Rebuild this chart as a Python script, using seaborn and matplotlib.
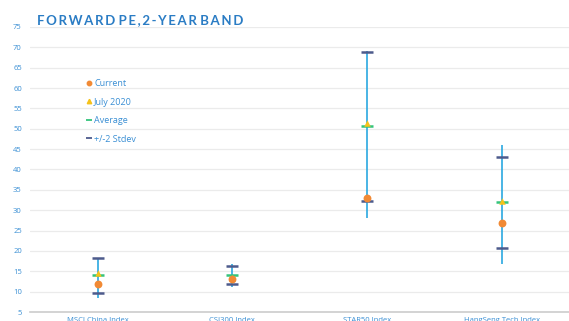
import matplotlib
matplotlib.use("Agg")
import matplotlib.pyplot as plt
import matplotlib.lines as mlines
import pandas as pd
import seaborn as sns

# data
indices = ["MSCI China Index", "CSI300 Index", "STAR50 Index", "HangSeng Tech Index"]
range_high = [18.2, 16.8, 69.0, 46.1]
range_low = [8.5, 11.1, 28.2, 16.8]
stdev_high = [18.2, 16.4, 68.8, 43.1]
stdev_low = [9.7, 11.8, 32.3, 20.6]
average = [14.0, 14.0, 50.6, 32.0]
july_2020 = [14.5, 13.3, 51.4, 32.3]
current = [12.0, 13.1, 32.9, 26.9]

df = pd.DataFrame({
    "index": indices,
    "pos": range(len(indices)),
    "high": range_high,
    "low": range_low,
    "sd_hi": stdev_high,
    "sd_lo": stdev_low,
    "avg": average,
    "july": july_2020,
    "current": current,
})

sns.set_theme(style="white")
plt.rcParams["font.family"] = ["Open Sans", "DejaVu Sans"]

blue_txt = "#3a8fd4"
line_col = "#2aa8e0"
sd_col = "#4d5b8c"
avg_col = "#34c47c"
cur_col = "#f18a35"
jul_col = "#f5c21b"

fig = plt.figure(figsize=(5.69, 3.21), dpi=100)
ax = fig.add_axes([0.053, 0.028, 0.947, 0.888])

# min-max range lines
ax.vlines(df["pos"], df["low"], df["high"], color=line_col, lw=1.2, zorder=2)

# +/-2 stdev ticks
sns.scatterplot(x="pos", y="sd_hi", data=df, marker="_", s=75, linewidth=1.8,
                color=sd_col, ax=ax, zorder=3)
sns.scatterplot(x="pos", y="sd_lo", data=df, marker="_", s=75, linewidth=1.8,
                color=sd_col, ax=ax, zorder=3)
# average
sns.scatterplot(x="pos", y="avg", data=df, marker="_", s=75, linewidth=1.8,
                color=avg_col, ax=ax, zorder=4)
# july 2020
sns.scatterplot(x="pos", y="july", data=df, marker="^", s=22, linewidth=0,
                color=jul_col, ax=ax, zorder=5)
# current
sns.scatterplot(x="pos", y="current", data=df, marker="o", s=32, linewidth=0,
                color=cur_col, ax=ax, zorder=6)

ax.set_xlim(-0.5, 3.5)
ax.set_ylim(5, 75)
ax.set_yticks(range(5, 80, 5))
ax.set_xticks(df["pos"])
ax.set_xticklabels(indices)
ax.set_xlabel("")
ax.set_ylabel("")
ax.tick_params(axis="y", labelsize=5.5, colors=blue_txt, length=0, pad=6)
ax.tick_params(axis="x", labelsize=5.5, colors=blue_txt, length=0, pad=3.5)
ax.yaxis.grid(True, color="#ebebeb", lw=0.9)
for side in ["top", "right", "left"]:
    ax.spines[side].set_visible(False)
ax.spines["bottom"].set_color("#cccccc")
ax.spines["bottom"].set_linewidth(1.2)

handles = [
    mlines.Line2D([], [], color=cur_col, marker="o", ls="none", markersize=3.2),
    mlines.Line2D([], [], color=jul_col, marker="^", ls="none", markersize=3.2),
    mlines.Line2D([], [], color=avg_col, marker="_", ls="none", markersize=5, mew=1.3),
    mlines.Line2D([], [], color=sd_col, marker="_", ls="none", markersize=5, mew=1.3),
]
leg = ax.legend(handles, ["Current", "July 2020", "Average", "+/-2 Stdev"],
                loc="upper left", bbox_to_anchor=(0.097, 0.833), frameon=False,
                fontsize=6.5, handlelength=0.5, handletextpad=0.3,
                labelspacing=1.05, borderpad=0)
for t in leg.get_texts():
    t.set_color(blue_txt)

fig.text(0.065, 0.925, "F O R W A R D  P E , 2 - Y E A R  B A N D".replace(" ", "\u2009").replace("\u2009\u2009", " "),
         color="#2a7cc4", fontsize=9.5, fontweight="bold",
         family=["Lato", "DejaVu Sans"])

fig.savefig("out.png", dpi=100)
